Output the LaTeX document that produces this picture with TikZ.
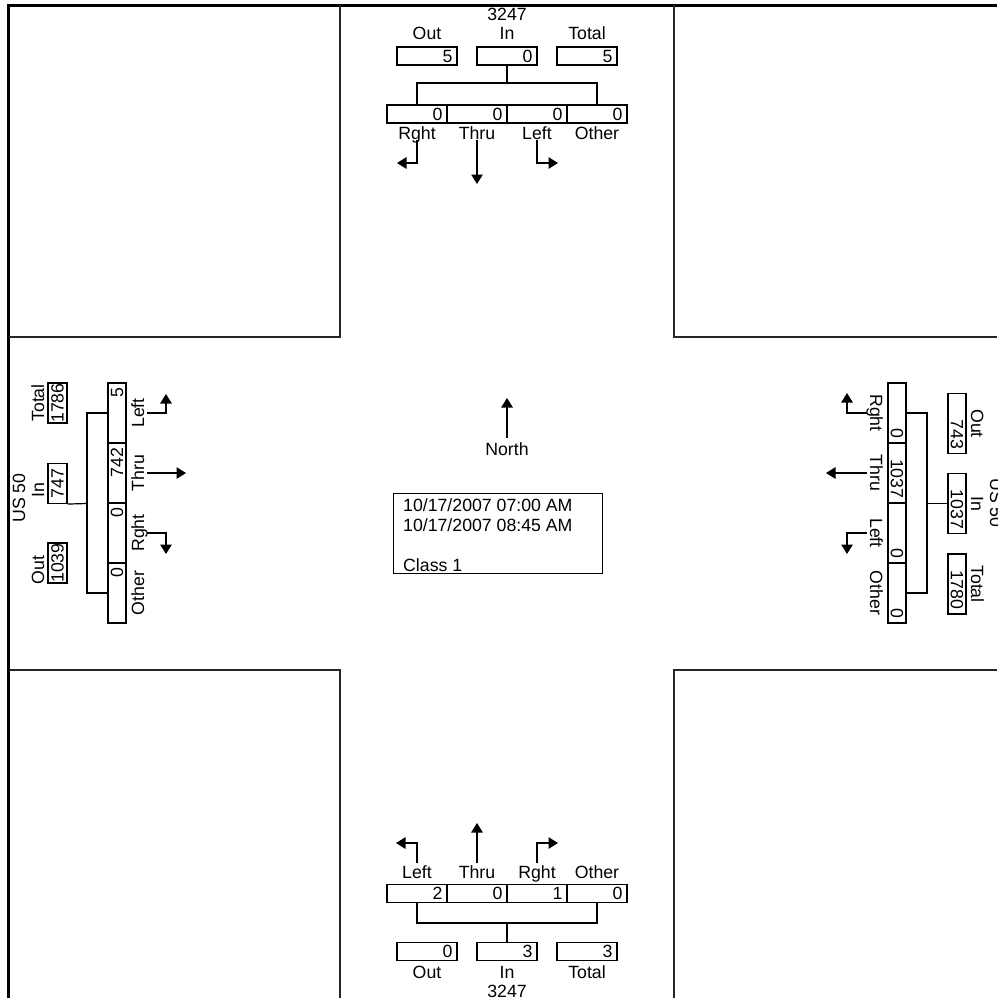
\documentclass[tikz,border=0pt]{standalone}
\usepackage{fontspec}
\setmainfont{Liberation Sans}
\usetikzlibrary{arrows.meta,calc}
\begin{document}
\begin{tikzpicture}[x=1pt,y=-1pt,
  font=\fontsize{17.7}{19.7}\selectfont,
  ln/.style={line width=1.2pt},
  corner/.style={line width=1.3pt, black!85},
  arr/.style={line width=1.2pt, -{Triangle[length=9.5pt,width=11.5pt]}},
  lanebox/.style={draw, line width=1.1pt, minimum width=60pt, minimum height=18pt, text width=51pt, inner xsep=4.5pt, inner ysep=0pt, align=right},
  shortbox/.style={draw, line width=1.1pt, minimum width=40pt, minimum height=19pt, inner sep=0pt, align=center},
  lbl/.style={anchor=base, inner sep=0pt}]
\useasboundingbox (0,0) rectangle (997,998);
% frame
\draw[line width=3.5pt] (997,5.5) -- (8.5,5.5) -- (8.5,998);
% corner blocks
\draw[corner] (8.5,337) -- (340,337) -- (340,5.5);
\draw[corner] (674,5.5) -- (674,337) -- (997,337);
\draw[corner] (8.5,670) -- (340,670) -- (340,998);
\draw[corner] (997,670) -- (674,670) -- (674,998);

% ===== top =====
\node[lbl] (tName) at (507,21) {3247};
\node[lbl] (tOutL) at (427,40) {Out};
\node[lbl] (tInL) at (507,40) {In};
\node[lbl] (tTotL) at (587,40) {Total};
\node[lanebox] (tOut) at (427,56) {5};
\node[lanebox] (tIn) at (507,56) {0};
\node[lanebox] (tTot) at (587,56) {5};
\node[lanebox] (tR) at (417,114) {0};
\node[lanebox] (tT) at (477,114) {0};
\node[lanebox] (tL) at (537,114) {0};
\node[lanebox] (tO) at (597,114) {0};
\node[lbl] (tRL) at (417,139.5) {Rght};
\node[lbl] (tTL) at (477,139.5) {Thru};
\node[lbl] (tLL) at (537,139.5) {Left};
\node[lbl] (tOL) at (597,139.5) {Other};
\coordinate (tJ) at (507,83);
\draw[ln] (tR.north) |- (tJ) -| (tO.north);
\draw[ln] (tIn.south) -- (tJ);
\coordinate (tRa) at (417,140); \coordinate (tRb) at (397,163);
\coordinate (tTa) at (477,140); \coordinate (tTb) at (477,184);
\coordinate (tLa) at (537,140); \coordinate (tLb) at (558,163);
\draw[arr] (tRa) |- (tRb);
\draw[arr] (tTa) -- (tTb);
\draw[arr] (tLa) |- (tLb);

% ===== bottom =====
\node[lbl] (bLL) at (417,878) {Left};
\node[lbl] (bTL) at (477,878) {Thru};
\node[lbl] (bRL) at (537,878) {Rght};
\node[lbl] (bOL) at (597,878) {Other};
\node[lanebox] (bL) at (417,893.5) {2};
\node[lanebox] (bT) at (477,893.5) {0};
\node[lanebox] (bR) at (537,893.5) {1};
\node[lanebox] (bO) at (597,893.5) {0};
\node[lanebox] (bOut) at (427,951.5) {0};
\node[lanebox] (bIn) at (507,951.5) {3};
\node[lanebox] (bTot) at (587,951.5) {3};
\node[lbl] (bOutL) at (427,978) {Out};
\node[lbl] (bInL) at (507,978) {In};
\node[lbl] (bTotL) at (587,978) {Total};
\node[lbl] (bName) at (507,997) {3247};
\coordinate (bJ) at (507,923);
\draw[ln] (bL.south) |- (bJ) -| (bO.south);
\draw[ln] (bIn.north) -- (bJ);
\coordinate (bLa) at (417,863); \coordinate (bLb) at (396,843);
\coordinate (bTa) at (477,863); \coordinate (bTb) at (477,823);
\coordinate (bRa) at (537,863); \coordinate (bRb) at (558,843);
\draw[arr] (bLa) |- (bLb);
\draw[arr] (bTa) -- (bTb);
\draw[arr] (bRa) |- (bRb);

% ===== left (west) =====
\node[lbl, rotate=90] (lName) at (25,498) {US 50};
\node[lbl, rotate=90] (lTotL) at (44,403) {Total};
\node[lbl, rotate=90] (lInL) at (44,490) {In};
\node[lbl, rotate=90] (lOutL) at (44,570) {Out};
\node[shortbox, rotate=90] (lTot) at (57.5,403) {1786};
\node[shortbox, rotate=90] (lIn) at (57.5,483.5) {747};
\node[shortbox, rotate=90] (lOut) at (57.5,563) {1039};
\node[lanebox, rotate=90] (lL) at (117,413) {5};
\node[lanebox, rotate=90] (lT) at (117,473) {742};
\node[lanebox, rotate=90] (lR) at (117,533) {0};
\node[lanebox, rotate=90] (lO) at (117,593) {0};
\node[lbl, rotate=90] (lLL) at (144,413) {Left};
\node[lbl, rotate=90] (lTL) at (144,473) {Thru};
\node[lbl, rotate=90] (lRL) at (144,533) {Rght};
\node[lbl, rotate=90] (lOL) at (144,593) {Other};
\coordinate (lJ) at (87,503.5);
\draw[ln] (lL.north) -| (lJ) |- (lO.north);
\draw[ln] (lIn.south west) -- (lJ);
\coordinate (lLa) at (147,413); \coordinate (lLb) at (166,394);
\coordinate (lTa) at (147,473); \coordinate (lTb) at (186,473);
\coordinate (lRa) at (147,533); \coordinate (lRb) at (166,554);
\draw[arr] (lLa) -| (lLb);
\draw[arr] (lTa) -- (lTb);
\draw[arr] (lRa) -| (lRb);

% ===== right (east) =====
\node[lbl, rotate=-90] (rName) at (990,503) {US 50};
\node[lbl, rotate=-90] (rOutL) at (971,423.5) {Out};
\node[lbl, rotate=-90] (rInL) at (971,503.5) {In};
\node[lbl, rotate=-90] (rTotL) at (971,584) {Total};
\node[lanebox, rotate=-90] (rOut) at (957,423.5) {743};
\node[lanebox, rotate=-90] (rIn) at (957,503.5) {1037};
\node[lanebox, rotate=-90] (rTot) at (957,584) {1780};
\node[lanebox, rotate=-90] (rR) at (897,413) {0};
\node[lanebox, rotate=-90] (rT) at (897,473) {1037};
\node[lanebox, rotate=-90] (rL) at (897,533) {0};
\node[lanebox, rotate=-90] (rO) at (897,593) {0};
\node[lbl, rotate=-90] (rRL) at (870,413) {Rght};
\node[lbl, rotate=-90] (rTL) at (870,473) {Thru};
\node[lbl, rotate=-90] (rLL) at (870,533) {Left};
\node[lbl, rotate=-90] (rOL) at (870,593) {Other};
\coordinate (rJ) at (927,503.5);
\draw[ln] (rR.north) -| (rJ) |- (rO.north);
\draw[ln] (rIn.south) -- (rJ);
\coordinate (rRa) at (867,413); \coordinate (rRb) at (847,393);
\coordinate (rTa) at (867,473); \coordinate (rTb) at (826,473);
\coordinate (rLa) at (867,533); \coordinate (rLb) at (847,554);
\draw[arr] (rRa) -| (rRb);
\draw[arr] (rTa) -- (rTb);
\draw[arr] (rLa) -| (rLb);

% ===== centre =====
\coordinate (Na) at (507,438); \coordinate (Nb) at (507,398);
\draw[arr] (Na) -- (Nb);
\node[lbl] (north) at (507,455) {North};
\node[draw, line width=1.1pt, minimum width=209pt, minimum height=80pt, anchor=north west, inner sep=0pt] (info) at (392.5,493) {};
\node[anchor=base west, inner sep=0pt] (d1) at (403,511) {10/17/2007 07:00 AM};
\node[anchor=base west, inner sep=0pt] (d2) at (403,531) {10/17/2007 08:45 AM};
\node[anchor=base west, inner sep=0pt] (d3) at (403,571) {Class 1};
\end{tikzpicture}
\end{document}
